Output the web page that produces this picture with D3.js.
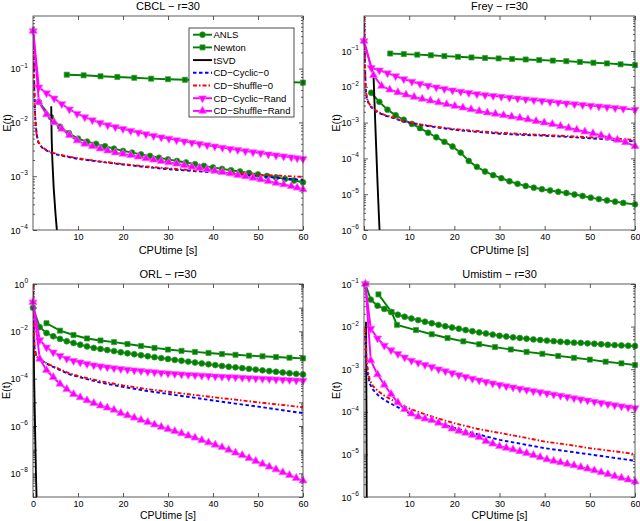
<!DOCTYPE html>
<html>
<head>
<meta charset="utf-8">
<script src="https://cdn.jsdelivr.net/npm/d3@7"></script>
<style>
  body { margin: 0; background: #fff; }
  svg { display: block; font-family: "Liberation Sans", Arial, sans-serif; }
</style>
</head>
<body>
<svg id="chart" width="640" height="521"></svg>
<script>
// values: [CPU time (s), E(t)]

// CBCL
const cbclAnls = [[1.3,2.4e-2],[4,1.25e-2],[6,8.3e-3],[8,6.3e-3],[10,5.0e-3],[12,4.4e-3],[14,4.0e-3],[16,3.6e-3],[18,3.25e-3],[20,2.95e-3],[22,2.75e-3],[24,2.55e-3],[26,2.38e-3],[28,2.2e-3],[30,2.05e-3],[32,1.92e-3],[34,1.8e-3],[36,1.68e-3],[38,1.56e-3],[40,1.45e-3],[42,1.37e-3],[44,1.29e-3],[46,1.22e-3],[48,1.15e-3],[50,1.08e-3],[52,1.01e-3],[54,9.5e-4],[56,8.9e-4],[58,8.3e-4],[60,7.7e-4]];
const cbclNewton = [[7.5,7.7e-2],[11.25,7.5e-2],[15,7.2e-2],[18.75,7.0e-2],[22.5,6.75e-2],[26.25,6.5e-2],[30,6.35e-2],[33.75,6.2e-2],[37.5,6.1e-2],[41.25,6.0e-2],[45,5.9e-2],[48.75,5.8e-2],[52.5,5.7e-2],[56.25,5.6e-2],[60,5.5e-2]];
const cbclTsvd = [[4.05,2e-2],[4.15,5e-3],[4.3,2e-3],[4.6,6e-4],[5.0,2e-4],[5.4,8e-5]];
const cbclCyclic0 = [[0.05,0.6],[0.15,0.2],[0.3,4e-2],[0.5,1.2e-2],[0.8,6e-3],[1.2,4.2e-3],[2,3.4e-3],[3,3e-3],[4,2.75e-3],[5.5,2.5e-3],[7,2.35e-3],[10,2.1e-3],[15,1.85e-3],[20,1.65e-3],[25,1.48e-3],[30,1.35e-3],[35,1.26e-3],[40,1.18e-3],[45,1.09e-3],[50,1.0e-3],[55,9.2e-4],[60,8.5e-4]];
const cbclShuffle0 = [[0.05,0.6],[0.15,0.2],[0.3,4e-2],[0.5,1.2e-2],[0.8,6e-3],[1.2,4.3e-3],[2,3.5e-3],[3,3.05e-3],[4,2.8e-3],[5.5,2.55e-3],[7,2.4e-3],[10,2.15e-3],[15,1.88e-3],[20,1.68e-3],[25,1.52e-3],[30,1.4e-3],[35,1.3e-3],[40,1.22e-3],[45,1.14e-3],[50,1.07e-3],[55,1.02e-3],[60,9.7e-4]];
const cbclCyclicRand = [[0.05,0.5],[1.3,4.5e-2],[3,3.5e-2],[4.7,2.8e-2],[6.4,2.2e-2],[8.1,1.75e-2],[9.8,1.45e-2],[11.5,1.25e-2],[13.2,1.1e-2],[14.9,9.8e-3],[16.6,8.9e-3],[18.3,8.2e-3],[20,7.6e-3],[21.7,7e-3],[23.4,6.5e-3],[25.1,6.05e-3],[26.8,5.65e-3],[28.5,5.3e-3],[30.2,5e-3],[31.9,4.7e-3],[33.6,4.45e-3],[35.3,4.2e-3],[37,3.98e-3],[38.7,3.77e-3],[40.4,3.58e-3],[42.1,3.4e-3],[43.8,3.23e-3],[45.5,3.08e-3],[47.2,2.94e-3],[48.9,2.8e-3],[50.6,2.68e-3],[52.3,2.56e-3],[54,2.45e-3],[55.7,2.35e-3],[57.4,2.25e-3],[58.7,2.17e-3],[60,2.1e-3]];
const cbclShuffleRand = [[0.05,0.5],[1.3,2.4e-2],[3,1.4e-2],[4.7,1e-2],[6.4,7.6e-3],[8.1,5.8e-3],[9.8,4.6e-3],[11.5,4.0e-3],[13.2,3.6e-3],[14.9,3.25e-3],[16.6,2.98e-3],[18.3,2.75e-3],[20,2.6e-3],[21.7,2.45e-3],[23.4,2.3e-3],[25.1,2.15e-3],[26.8,2.02e-3],[28.5,1.9e-3],[30.2,1.8e-3],[31.9,1.7e-3],[33.6,1.6e-3],[35.3,1.5e-3],[37,1.42e-3],[38.7,1.34e-3],[40.4,1.26e-3],[42.1,1.19e-3],[43.8,1.12e-3],[45.5,1.05e-3],[47.2,9.9e-4],[48.9,9.3e-4],[50.6,8.7e-4],[52.3,8.1e-4],[54,7.5e-4],[55.7,7e-4],[57.4,6.5e-4],[58.7,6.1e-4],[60,5.7e-4]];

// Frey
const freyAnls = [[1.6,6.8e-3],[3.4,3.8e-3],[5.2,2.3e-3],[7,1.6e-3],[8.8,1.2e-3],[10.6,9.2e-4],[12.4,7e-4],[14.2,5.2e-4],[16,3.9e-4],[17.8,2.9e-4],[19.6,2.15e-4],[21.4,1.45e-4],[23.2,8.5e-5],[25,5.8e-5],[26.8,4.3e-5],[28.6,3.4e-5],[30.4,2.8e-5],[32.2,2.3e-5],[34,1.95e-5],[35.8,1.7e-5],[37.6,1.52e-5],[39.4,1.38e-5],[41.2,1.27e-5],[43,1.17e-5],[44.8,1.08e-5],[46.6,9.8e-6],[48.4,8.9e-6],[50.2,8e-6],[52,7.3e-6],[53.8,6.7e-6],[55.6,6.2e-6],[57.4,5.7e-6],[60,5.2e-6]];
const freyNewton = [[5.8,8.5e-2],[8.8,8.2e-2],[11.8,7.9e-2],[14.8,7.6e-2],[17.8,7.2e-2],[20.8,6.9e-2],[23.8,6.6e-2],[26.8,6.4e-2],[29.8,6.2e-2],[32.8,6e-2],[35.8,5.8e-2],[38.8,5.6e-2],[41.8,5.4e-2],[44.8,5.2e-2],[47.8,4.95e-2],[50.8,4.7e-2],[53.8,4.5e-2],[56.8,4.25e-2],[60,4e-2]];
const freyTsvd = [[2.1,2.2e-2],[2.4,2e-3],[2.7,2e-4],[3.0,2e-5],[3.3,2.5e-6],[3.5,7e-7]];
const freyCyclic0 = [[0.02,0.9],[0.1,0.3],[0.2,5e-2],[0.35,1e-2],[0.6,5e-3],[1,3.5e-3],[1.5,2.8e-3],[2.2,2.3e-3],[3.1,1.9e-3],[4.5,1.6e-3],[6.4,1.35e-3],[8,1.15e-3],[10,1e-3],[12.5,8.7e-4],[15,7.7e-4],[20,6.3e-4],[25,5.5e-4],[30,4.9e-4],[35,4.55e-4],[40,4.3e-4],[45,4e-4],[50,3.65e-4],[55,3.3e-4],[60,3e-4]];
const freyShuffle0 = [[0.02,0.9],[0.1,0.3],[0.2,5e-2],[0.35,1e-2],[0.6,5e-3],[1,3.6e-3],[1.5,2.9e-3],[2.2,2.4e-3],[3.1,2e-3],[4.5,1.65e-3],[6.4,1.4e-3],[8,1.18e-3],[10,1.02e-3],[12.5,8.9e-4],[15,8e-4],[20,6.6e-4],[25,5.8e-4],[30,5.2e-4],[35,4.8e-4],[40,4.5e-4],[45,4.2e-4],[50,3.9e-4],[55,3.6e-4],[60,3.3e-4]];
const freyCyclicRand = [[0,0.19],[1.6,3.4e-2],[3.4,2.9e-2],[5.2,2.4e-2],[7,2e-2],[8.8,1.65e-2],[10.6,1.4e-2],[12.4,1.22e-2],[14.2,1.08e-2],[16,9.7e-3],[17.8,8.8e-3],[19.6,8e-3],[21.4,7.4e-3],[23.2,6.8e-3],[25,6.3e-3],[26.8,5.9e-3],[28.6,5.6e-3],[30.4,5.3e-3],[32.2,5e-3],[34,4.75e-3],[35.8,4.5e-3],[37.6,4.25e-3],[39.4,4.05e-3],[41.2,3.85e-3],[43,3.65e-3],[44.8,3.45e-3],[46.6,3.28e-3],[48.4,3.12e-3],[50.2,2.97e-3],[52,2.83e-3],[53.8,2.7e-3],[55.6,2.57e-3],[57.4,2.45e-3],[60,2.3e-3]];
const freyShuffleRand = [[0,0.19],[2.1,2.1e-2],[3.9,1.05e-2],[5.7,8.3e-3],[7.5,7e-3],[9.3,6e-3],[11.1,5.2e-3],[12.9,4.6e-3],[14.7,4.1e-3],[16.5,3.65e-3],[18.3,3.25e-3],[20.1,2.9e-3],[21.9,2.6e-3],[23.7,2.35e-3],[25.5,2.1e-3],[27.3,1.9e-3],[29.1,1.75e-3],[30.9,1.6e-3],[32.7,1.47e-3],[34.5,1.35e-3],[36.3,1.22e-3],[38.1,1.1e-3],[39.9,1e-3],[41.7,9e-4],[43.5,8e-4],[45.3,7.1e-4],[47.1,6.3e-4],[48.9,5.6e-4],[50.7,5e-4],[52.5,4.4e-4],[54.3,3.85e-4],[56.1,3.3e-4],[57.9,2.8e-4],[60,2.2e-4]];

// ORL
const orlAnls = [[0,1e-1],[1.5,1.5e-2],[3,8.5e-3],[4.5,6.2e-3],[6,4.8e-3],[7.5,3.8e-3],[9,3.2e-3],[10.5,2.7e-3],[12,2.3e-3],[13.5,2.0e-3],[15,1.8e-3],[16.5,1.62e-3],[18,1.46e-3],[19.5,1.3e-3],[21,1.18e-3],[22.5,1.08e-3],[24,9.8e-4],[25.5,8.9e-4],[27,8.1e-4],[28.5,7.4e-4],[30,6.8e-4],[31.5,6.2e-4],[33,5.7e-4],[34.5,5.25e-4],[36,4.8e-4],[37.5,4.4e-4],[39,4.05e-4],[40.5,3.75e-4],[42,3.45e-4],[43.5,3.2e-4],[45,3e-4],[46.5,2.8e-4],[48,2.6e-4],[49.5,2.42e-4],[51,2.25e-4],[52.5,2.1e-4],[54,1.95e-4],[55.5,1.82e-4],[57,1.7e-4],[58.5,1.6e-4],[60,1.5e-4]];
const orlNewton = [[3,2.2e-2],[6,1.07e-2],[9,7e-3],[12,5e-3],[15,4.1e-3],[18,3.5e-3],[21,2.9e-3],[24,2.4e-3],[27,2e-3],[30,1.7e-3],[33,1.5e-3],[36,1.35e-3],[39,1.22e-3],[42,1.1e-3],[45,1.02e-3],[48,9.4e-4],[51,8.8e-4],[54,8.2e-4],[57,7.7e-4],[60,7.2e-4]];
const orlTsvd = [[0.05,2e-2],[0.25,1e-4],[0.45,1e-6],[0.65,1e-8],[0.8,8e-10]];
const orlCyclic0 = [[0.02,0.9],[0.1,0.1],[0.2,1e-2],[0.35,2e-3],[0.6,1.1e-3],[1,8e-4],[1.5,6.8e-4],[2.5,5e-4],[3.8,3.6e-4],[6,2.3e-4],[8,1.55e-4],[10,1.2e-4],[15,6.8e-5],[20,4.5e-5],[25,3.1e-5],[30,2.25e-5],[35,1.65e-5],[40,1.2e-5],[45,8.8e-6],[50,6.6e-6],[55,4.8e-6],[60,3.5e-6]];
const orlShuffle0 = [[0.02,0.9],[0.1,0.1],[0.2,1e-2],[0.35,2e-3],[0.6,1.1e-3],[1,8.2e-4],[1.5,7e-4],[2.5,5.2e-4],[3.8,3.8e-4],[6,2.5e-4],[8,1.7e-4],[10,1.3e-4],[15,7.8e-5],[20,5.2e-5],[25,3.7e-5],[30,2.8e-5],[35,2.15e-5],[40,1.65e-5],[45,1.3e-5],[50,1e-5],[55,7.9e-6],[60,6.2e-6]];
const orlCyclicRand = [[0,1.7e-1],[1.5,4.3e-3],[3,2.1e-3],[4.5,1.3e-3],[6,9.3e-4],[7.5,7e-4],[9,5.7e-4],[10.5,4.9e-4],[12,4.2e-4],[13.5,3.7e-4],[15,3.35e-4],[16.5,3.05e-4],[18,2.8e-4],[19.5,2.6e-4],[21,2.42e-4],[22.5,2.27e-4],[24,2.13e-4],[25.5,2e-4],[27,1.88e-4],[28.5,1.77e-4],[30,1.68e-4],[31.5,1.6e-4],[33,1.53e-4],[34.5,1.47e-4],[36,1.41e-4],[37.5,1.36e-4],[39,1.31e-4],[40.5,1.26e-4],[42,1.22e-4],[43.5,1.18e-4],[45,1.15e-4],[46.5,1.11e-4],[48,1.07e-4],[49.5,1.03e-4],[51,1.0e-4],[52.5,9.7e-5],[54,9.4e-5],[55.5,9.1e-5],[57,8.8e-5],[58.5,8.5e-5],[60,8.3e-5]];
const orlShuffleRand = [[0,1.7e-1],[1.5,6.8e-4],[3,2.3e-4],[4.5,1.15e-4],[6,6e-5],[7.5,3.6e-5],[9,2.2e-5],[10.5,1.6e-5],[12,1.2e-5],[13.5,9.2e-6],[15,7.2e-6],[16.5,5.9e-6],[18,4.8e-6],[19.5,3.5e-6],[21,2.8e-6],[22.5,2.25e-6],[24,1.8e-6],[25.5,1.45e-6],[27,1.15e-6],[28.5,9.1e-7],[30,7.4e-7],[31.5,6e-7],[33,4.9e-7],[34.5,3.9e-7],[36,3.2e-7],[37.5,2.5e-7],[39,2e-7],[40.5,1.6e-7],[42,1.26e-7],[43.5,9.8e-8],[45,7.4e-8],[46.5,5.8e-8],[48,4.4e-8],[49.5,3.3e-8],[51,2.5e-8],[52.5,1.9e-8],[54,1.45e-8],[55.5,1.1e-8],[57,8.3e-9],[58.5,6.3e-9],[60,4.9e-9]];

// Umistim
const umiAnls = [[0.3,1e-1],[1.5,4.3e-2],[3,3.1e-2],[4.5,2.6e-2],[6,2.2e-2],[7.5,1.9e-2],[9,1.7e-2],[10.5,1.55e-2],[12,1.42e-2],[13.5,1.3e-2],[15,1.2e-2],[16.5,1.1e-2],[18,1.02e-2],[19.5,9.5e-3],[21,8.9e-3],[22.5,8.3e-3],[24,7.8e-3],[25.5,7.3e-3],[27,6.9e-3],[28.5,6.5e-3],[30,6.1e-3],[31.5,5.85e-3],[33,5.6e-3],[34.5,5.4e-3],[36,5.2e-3],[37.5,5.0e-3],[39,4.85e-3],[40.5,4.7e-3],[42,4.55e-3],[43.5,4.4e-3],[45,4.3e-3],[46.5,4.2e-3],[48,4.15e-3],[49.5,4.05e-3],[51,3.95e-3],[52.5,3.85e-3],[54,3.75e-3],[55.5,3.68e-3],[57,3.62e-3],[58.5,3.56e-3],[60,3.5e-3]];
const umiNewton = [[3.2,5.7e-2],[6.1,2.2e-2],[7.3,1.1e-2],[11.5,8.3e-3],[15,6.6e-3],[18.5,5.4e-3],[22,4.5e-3],[25.5,3.85e-3],[29,3.3e-3],[32.5,2.9e-3],[36,2.55e-3],[39.5,2.3e-3],[43,2.05e-3],[46.5,1.85e-3],[50,1.68e-3],[53.5,1.5e-3],[57,1.37e-3],[60,1.25e-3]];
const umiTsvd = [[0.45,1.3e-2],[0.5,1e-3],[0.55,1e-4],[0.6,1e-6],[0.62,8e-7]];
const umiCyclic0 = [[0.3,6e-3],[0.45,2.5e-3],[0.6,1.3e-3],[0.9,7e-4],[1.3,4.5e-4],[2,3.3e-4],[3.2,2.4e-4],[4.5,1.9e-4],[6,1.55e-4],[8,1.2e-4],[10,9.3e-5],[12.5,7.3e-5],[15,6e-5],[17.5,5e-5],[20,4.2e-5],[25,3e-5],[30,2.2e-5],[35,1.75e-5],[40,1.4e-5],[45,1.18e-5],[50,1e-5],[55,8.4e-6],[60,7.1e-6]];
const umiShuffle0 = [[0.3,9e-3],[0.45,3.5e-3],[0.6,1.6e-3],[0.9,8.5e-4],[1.3,5.5e-4],[2,4e-4],[3.2,3e-4],[4.5,2.4e-4],[6,1.95e-4],[8,1.5e-4],[10,1.2e-4],[12.5,9.5e-5],[15,7.8e-5],[17.5,6.4e-5],[20,5.4e-5],[25,4e-5],[30,3.2e-5],[35,2.55e-5],[40,2e-5],[45,1.7e-5],[50,1.4e-5],[55,1.2e-5],[60,1.02e-5]];
const umiCyclicRand = [[0.3,1e-1],[1.5,9e-3],[3,5.3e-3],[4.5,3.6e-3],[6,2.8e-3],[7.5,2.3e-3],[9,1.9e-3],[10.5,1.6e-3],[12,1.42e-3],[13.5,1.27e-3],[15,1.13e-3],[16.5,1.0e-3],[18,9e-4],[19.5,8.1e-4],[21,7.3e-4],[22.5,6.6e-4],[24,6e-4],[25.5,5.5e-4],[27,5.05e-4],[28.5,4.65e-4],[30,4.3e-4],[31.5,4e-4],[33,3.75e-4],[34.5,3.5e-4],[36,3.28e-4],[37.5,3.08e-4],[39,2.9e-4],[40.5,2.72e-4],[42,2.55e-4],[43.5,2.4e-4],[45,2.25e-4],[46.5,2.1e-4],[48,1.97e-4],[49.5,1.85e-4],[51,1.73e-4],[52.5,1.62e-4],[54,1.52e-4],[55.5,1.43e-4],[57,1.35e-4],[58.5,1.28e-4],[60,1.22e-4]];
const umiShuffleRand = [[0.3,1e-1],[1.5,1.6e-3],[3,7.5e-4],[4.5,4.3e-4],[6,2.6e-4],[7.5,1.65e-4],[9,1.15e-4],[10.5,9e-5],[12,7.7e-5],[13.5,6.9e-5],[15,6.4e-5],[16.5,5.5e-5],[18,4.7e-5],[19.5,4e-5],[21,3.55e-5],[22.5,3.2e-5],[24,2.85e-5],[25.5,2.55e-5],[27,2.05e-5],[28.5,1.78e-5],[30,1.55e-5],[31.5,1.42e-5],[33,1.3e-5],[34.5,1.18e-5],[36,1.07e-5],[37.5,9.6e-6],[39,8.6e-6],[40.5,7.6e-6],[42,7e-6],[43.5,6.5e-6],[45,6e-6],[46.5,5.5e-6],[48,5e-6],[49.5,4.6e-6],[51,4.2e-6],[52.5,3.8e-6],[54,3.45e-6],[55.5,3.1e-6],[57,2.8e-6],[58.5,2.55e-6],[60,2.3e-6]];

const seriesNames = ["ANLS", "Newton", "tSVD", "CD\u2212Cyclic\u22120", "CD\u2212Shuffle\u22120", "CD\u2212Cyclic\u2212Rand", "CD\u2212Shuffle\u2212Rand"];
const xTicksAll = [0, 10, 20, 30, 40, 50, 60];
const xTicksNoZero = [10, 20, 30, 40, 50, 60];

const green = "#008000";
const magenta = "#ff00ff";
const styles = [
  { color: green, stroke: "#3a9a3a", marker: "circle" },
  { color: green, stroke: "#3a9a3a", marker: "square" },
  { color: "#000000", marker: null },
  { color: "#0000ff", dash: "3.5,2.5", marker: null },
  { color: "#ff0000", dash: "4,2,1.5,2", marker: null },
  { color: magenta, stroke: "#ff66ff", marker: "down" },
  { color: magenta, stroke: "#ff66ff", marker: "up" },
];

const panels = [
  { title: "CBCL \u2212 r=30", box: [33, 16, 303, 230], yDomain: [1e-4, 0.95], yLabels: [-4, -3, -2, -1], xTicks: xTicksNoZero, yLabelX: 7, xLabelDy: 24, xLabelSize: 11,
    series: [cbclAnls, cbclNewton, cbclTsvd, cbclCyclic0, cbclShuffle0, cbclCyclicRand, cbclShuffleRand], legend: true },
  { title: "Frey \u2212 r=30", box: [364, 16, 635, 230], yDomain: [1e-6, 0.95], yLabels: [-6, -5, -4, -3, -2, -1], xTicks: xTicksAll, yLabelX: 336, xLabelDy: 24, xLabelSize: 11,
    series: [freyAnls, freyNewton, freyTsvd, freyCyclic0, freyShuffle0, freyCyclicRand, freyShuffleRand] },
  { title: "ORL \u2212 r=30", box: [33, 284, 303, 497], yDomain: [1e-9, 1], yLabels: [-8, -6, -4, -2, 0], xTicks: xTicksAll, yLabelX: 6, xLabelDy: 22, xLabelSize: 10.5,
    series: [orlAnls, orlNewton, orlTsvd, orlCyclic0, orlShuffle0, orlCyclicRand, orlShuffleRand] },
  { title: "Umistim \u2212 r=30", box: [364, 284, 635, 497], yDomain: [1e-6, 1e-1], yLabels: [-6, -5, -4, -3, -2, -1], xTicks: xTicksNoZero, yLabelX: 336, xLabelDy: 22, xLabelSize: 10.5,
    series: [umiAnls, umiNewton, umiTsvd, umiCyclic0, umiShuffle0, umiCyclicRand, umiShuffleRand] },
];

const svg = d3.select("#chart");
const axisColor = "#333";

function markerPath(kind) {
  if (kind === "circle") return d3.symbol(d3.symbolCircle, 27)();
  if (kind === "square") return d3.symbol(d3.symbolSquare, 26)();
  return d3.symbol(d3.symbolTriangle, 28)();
}

function drawMarker(sel, st) {
  sel.attr("d", markerPath(st.marker))
    .attr("fill", st.color)
    .attr("stroke", st.stroke)
    .attr("stroke-width", 0.7);
}

panels.forEach((p, i) => {
  const [x0, y0, x1, y1] = p.box;
  const x = d3.scaleLinear().domain([0, 60]).range([x0, x1]);
  const y = d3.scaleLog().domain(p.yDomain).range([y1, y0]);
  const g = svg.append("g");

  const clipId = "clip" + i;
  svg.append("clipPath").attr("id", clipId)
    .append("rect").attr("x", x0).attr("y", y0).attr("width", x1 - x0).attr("height", y1 - y0);

  // axes (inward ticks, box on)
  const lo = Math.floor(Math.log10(p.yDomain[0]));
  const hi = Math.ceil(Math.log10(p.yDomain[1]));
  const major = [];
  const minor = [];
  for (let k = lo; k <= hi; k++) {
    const v = Math.pow(10, k);
    if (v >= p.yDomain[0] && v <= p.yDomain[1]) major.push(v);
    for (let m = 2; m <= 9; m++) {
      const w = m * v;
      if (w >= p.yDomain[0] && w <= p.yDomain[1]) minor.push(w);
    }
  }

  const axes = g.append("g").attr("class", "axes");
  axes.append("g").attr("transform", `translate(0,${y1})`)
    .call(d3.axisBottom(x).tickValues(p.xTicks).tickSizeInner(-4).tickSizeOuter(0).tickPadding(3.5).tickFormat(d3.format("d")));
  axes.append("g").attr("transform", `translate(0,${y0})`)
    .call(d3.axisTop(x).tickValues(p.xTicks).tickSizeInner(-4).tickSizeOuter(0).tickFormat(""));
  axes.append("g").attr("transform", `translate(${x0},0)`)
    .call(d3.axisLeft(y).tickValues(major).tickSizeInner(-4).tickSizeOuter(0).tickFormat(""));
  axes.append("g").attr("transform", `translate(${x0},0)`)
    .call(d3.axisLeft(y).tickValues(minor).tickSizeInner(-2).tickSizeOuter(0).tickFormat(""));
  axes.append("g").attr("transform", `translate(${x1},0)`)
    .call(d3.axisRight(y).tickValues(major).tickSizeInner(-4).tickSizeOuter(0).tickFormat(""));
  axes.append("g").attr("transform", `translate(${x1},0)`)
    .call(d3.axisRight(y).tickValues(minor).tickSizeInner(-2).tickSizeOuter(0).tickFormat(""));
  axes.selectAll(".domain").remove();
  axes.selectAll(".tick line").attr("stroke", axisColor).attr("stroke-width", 0.8);
  axes.selectAll(".tick text").attr("font-family", "Liberation Sans, Arial, sans-serif")
    .attr("font-size", 9).attr("fill", "#000");

  // y tick labels 10^k
  const yl = g.append("g");
  p.yLabels.forEach(k => {
    const t = yl.append("text")
      .attr("x", x0 - 5).attr("y", y(Math.pow(10, k)) + 3.5)
      .attr("text-anchor", "end").attr("font-size", 9);
    t.append("tspan").text("10");
    t.append("tspan").attr("dy", -4.5).attr("font-size", 6.5).text(k < 0 ? "\u2212" + (-k) : String(k));
  });

  // series
  const lineGen = d3.line().x(d => x(d[0])).y(d => y(d[1]));
  const plot = g.append("g");
  p.series.forEach((data, s) => {
    const st = styles[s];
    plot.append("path")
      .attr("clip-path", `url(#${clipId})`)
      .attr("d", lineGen(data))
      .attr("fill", "none")
      .attr("stroke", st.color)
      .attr("stroke-width", 1.9)
      .attr("stroke-dasharray", st.dash || null);
    if (st.marker) {
      const inside = data.filter(d => d[1] >= p.yDomain[0] && d[1] <= p.yDomain[1]);
      plot.append("g").selectAll("path").data(inside).enter().append("path")
        .attr("transform", d => `translate(${x(d[0])},${y(d[1])})` + (st.marker === "down" ? " rotate(180)" : ""))
        .call(sel => drawMarker(sel, st));
    }
  });

  // frame
  g.append("rect").attr("x", x0).attr("y", y0).attr("width", x1 - x0).attr("height", y1 - y0)
    .attr("fill", "none").attr("stroke", axisColor).attr("stroke-width", 0.8);

  // labels
  const cx = (x0 + x1) / 2;
  g.append("text").attr("x", cx).attr("y", y0 - 6).attr("text-anchor", "middle")
    .attr("font-size", 11).text(p.title);
  g.append("text").attr("x", cx).attr("y", y1 + p.xLabelDy).attr("text-anchor", "middle")
    .attr("font-size", p.xLabelSize).text("CPUtime [s]");
  g.append("text").attr("transform", `translate(${p.yLabelX + 4},${(y0 + y1) / 2}) rotate(-90)`)
    .attr("text-anchor", "middle").attr("font-size", 11).text("E(t)");

  // legend
  if (p.legend) {
    const lg = g.append("g");
    const lx = 189, ly = 28, lw = 105, lh = 89, step = 12.7;
    lg.append("rect").attr("x", lx).attr("y", ly).attr("width", lw).attr("height", lh)
      .attr("fill", "#fff").attr("stroke", "#222").attr("stroke-width", 0.8);
    seriesNames.forEach((name, s) => {
      const st = styles[s];
      const yy = ly + 6.7 + s * step;
      lg.append("line").attr("x1", lx + 4).attr("x2", lx + 23).attr("y1", yy).attr("y2", yy)
        .attr("stroke", st.color).attr("stroke-width", 1.9).attr("stroke-dasharray", st.dash || null);
      if (st.marker) {
        lg.append("path")
          .attr("transform", `translate(${lx + 13.5},${yy})` + (st.marker === "down" ? " rotate(180)" : ""))
          .call(sel => drawMarker(sel, st));
      }
      lg.append("text").attr("x", lx + 24.5).attr("y", yy + 3.4).attr("font-size", 9.5).text(name);
    });
  }
});
</script>
</body>
</html>
